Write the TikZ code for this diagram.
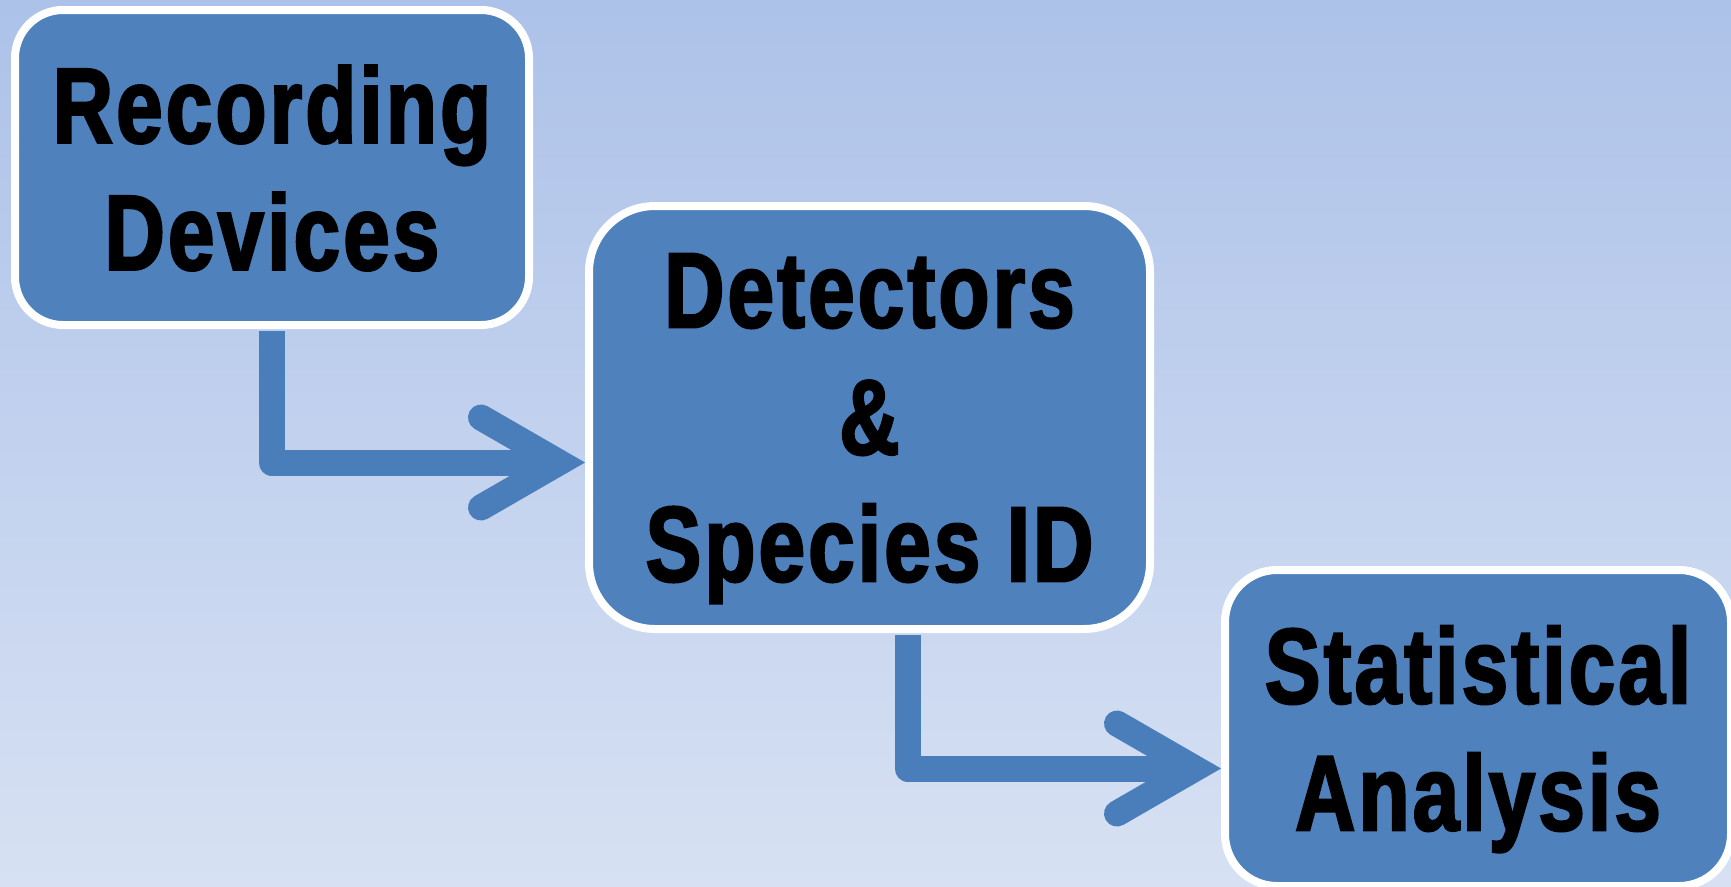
\documentclass[tikz,border=0pt]{standalone}
\usepackage{fontspec}
\newfontfamily\boxfont{Liberation Sans}[FakeStretch=0.78, LetterSpace=3, BoldFeatures={FakeBold=2.2}]
\usetikzlibrary{calc}
\definecolor{boxblue}{HTML}{4F81BD}
\definecolor{arrowblue}{HTML}{4A7EBB}
\definecolor{bgtop}{HTML}{ADC2E9}
\definecolor{bgbot}{HTML}{D7E1F3}
\begin{document}
\begin{tikzpicture}[x=1pt,y=-1pt,
  stage/.style={draw=white, line width=8pt, fill=boxblue, align=center, text=black,
    font=\boxfont\fontsize{107}{127}\selectfont\bfseries, text depth=0pt, inner sep=0pt},
  flow/.style={draw=arrowblue, line width=26pt, line join=round},
  chev/.style={draw=arrowblue, line width=26pt, line cap=round, line join=miter}]
\fill[top color=bgtop, bottom color=bgbot] (0,0) rectangle (1731,886);
\useasboundingbox (0,0) rectangle (1731,886);

\node[stage, rounded corners=48pt, minimum width=514pt, minimum height=315pt] (b1) at (272,167.5) {Recording\\Devices};
\node[stage, rounded corners=66pt, minimum width=561pt, minimum height=423pt] (b2) at (869.5,417.5) {Detectors\\\&\\Species ID};
\node[stage, rounded corners=52pt, minimum width=506pt, minimum height=316pt] (b3) at (1478,728) {Statistical\\Analysis};

% arrow 1
\coordinate (k1) at (271.5,462.5);
\coordinate (t1) at (b2.west |- k1);
\coordinate (v1) at ($(t1)+(-26,0)$);
\draw[flow] ([yshift=-2pt]k1 |- b1.south) -- (k1) -- (v1);
\draw[chev] ($(v1)+(-78,-45)$) -- (v1) -- ($(v1)+(-78,45)$);

% arrow 2
\coordinate (k2) at (907.5,768.5);
\coordinate (t2) at (b3.west |- k2);
\coordinate (v2) at ($(t2)+(-26,0)$);
\draw[flow] ([yshift=-2pt]k2 |- b2.south) -- (k2) -- (v2);
\draw[chev] ($(v2)+(-78,-45)$) -- (v2) -- ($(v2)+(-78,45)$);
\end{tikzpicture}
\end{document}
